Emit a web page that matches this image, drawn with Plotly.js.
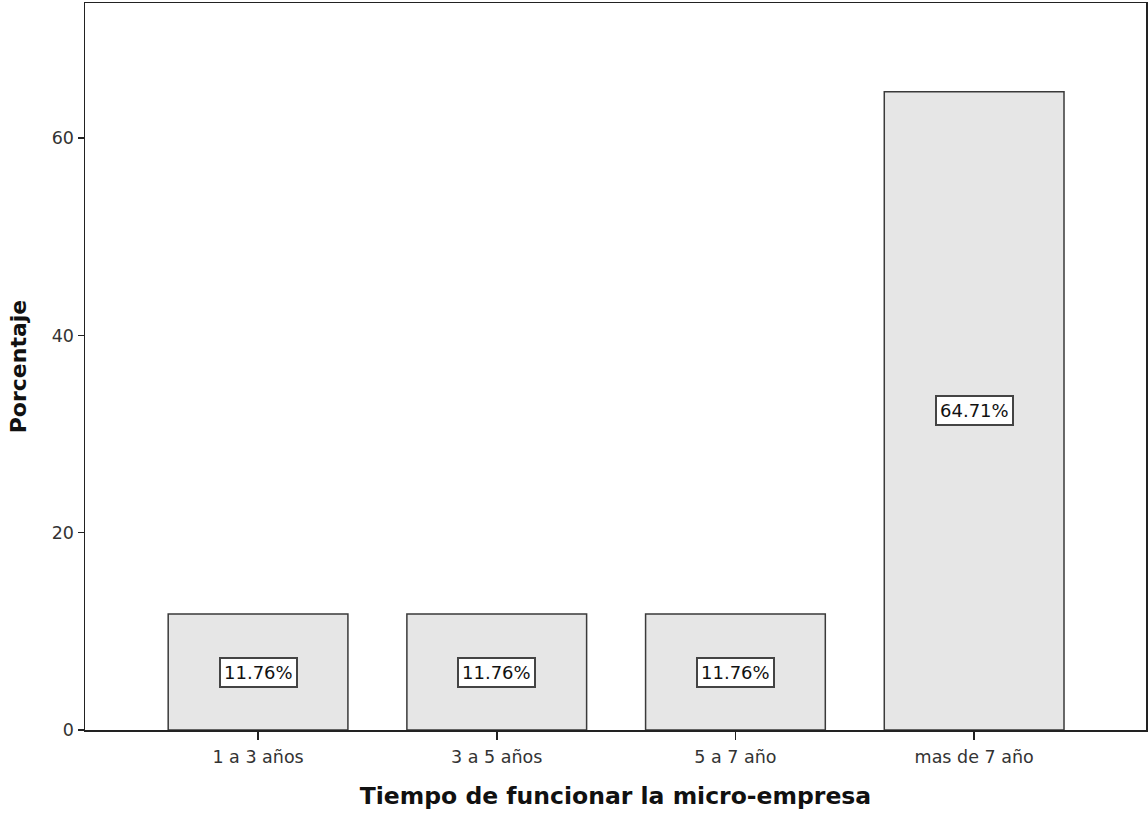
<!DOCTYPE html>
<html><head><meta charset="utf-8">
<script src="https://cdn.plot.ly/plotly-3.0.1.min.js"></script>
<style>html,body{margin:0;padding:0;background:#fff}#c{width:1148px;height:814px}</style>
</head><body><div id="c"></div>
<script>
const categories = ["1 a 3 años", "3 a 5 años", "5 a 7 año", "mas de 7 año"];
const values = [11.76, 11.76, 11.76, 64.71];
const yTicks = [0, 20, 40, 60];

const xIdx = categories.map((c, i) => i);
const F = 'DejaVu Sans, Arial, sans-serif';
const trace = {
  type: 'bar', x: xIdx, y: values, width: 0.753,
  marker: {color: '#e6e6e6', line: {color: '#3a3a3a', width: 1.5}},
  hoverinfo: 'skip'
};
const annotations = values.map((v, i) => ({
  x: i, y: v / 2, xref: 'x', yref: 'y', text: v.toFixed(2) + '%', showarrow: false,
  font: {family: F, size: 18, color: '#111'},
  bgcolor: '#ffffff', bordercolor: '#444', borderwidth: 2, borderpad: 3
}));
const layout = {
  width: 1148, height: 814,
  margin: {l: 85, r: 2, t: 3, b: 84},
  paper_bgcolor: '#fff', plot_bgcolor: '#fff',
  showlegend: false,
  xaxis: {
    range: [-0.725, 3.72], tickvals: xIdx, ticktext: categories,
    ticks: 'outside', ticklen: 8, tickcolor: '#222', tickwidth: 1.5,
    showline: true, linecolor: '#222', linewidth: 1.5, mirror: true,
    showgrid: false, zeroline: false, ticklabelstandoff: 2,
    tickfont: {family: F, size: 17.5, color: '#333'},
    title: {text: 'Tiempo de funcionar la micro-empresa', standoff: 22,
      font: {family: F, size: 23.5, color: '#111', weight: 'bold'}}
  },
  yaxis: {
    range: [0, 73.7], tickvals: yTicks,
    ticks: 'outside', ticklen: 6, tickcolor: '#222', tickwidth: 1.5,
    showline: true, linecolor: '#222', linewidth: 1.5, mirror: true,
    showgrid: false, zeroline: false,
    tickfont: {family: F, size: 17.5, color: '#333'},
    title: {text: 'Porcentaje', standoff: 19,
      font: {family: F, size: 22, color: '#111', weight: 'bold'}}
  },
  annotations: annotations
};
Plotly.newPlot('c', [trace], layout, {displayModeBar: false, staticPlot: true});
</script></body></html>
